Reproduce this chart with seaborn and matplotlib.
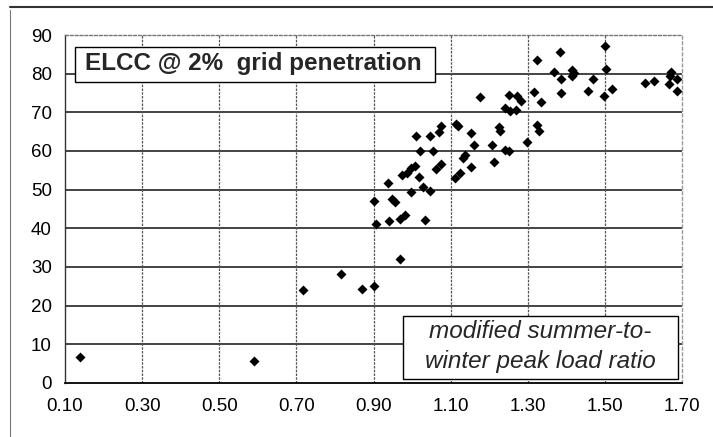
import matplotlib
matplotlib.use('Agg')
import matplotlib.pyplot as plt
import seaborn as sns
import pandas as pd
from matplotlib.patches import Rectangle
from matplotlib.lines import Line2D

# ---- data ----
ratio = [0.140, 0.590, 0.717, 0.815, 0.870, 0.900, 0.969, 0.900, 0.949, 0.956,
         0.906, 0.941, 0.969, 0.981, 1.034, 0.937, 0.997, 1.027, 1.047, 0.974,
         0.987, 0.996, 1.008, 1.019, 1.010, 1.046, 1.021, 1.054, 1.063, 1.075,
         1.071, 1.075, 1.110, 1.113, 1.118, 1.125, 1.131, 1.138, 1.154, 1.154,
         1.160, 1.177, 1.207, 1.212, 1.226, 1.228, 1.241, 1.254, 1.269, 1.252,
         1.271, 1.282, 1.241, 1.250, 1.298, 1.317, 1.325, 1.324, 1.328, 1.334,
         1.367, 1.384, 1.387, 1.387, 1.415, 1.419, 1.415, 1.456, 1.469, 1.500,
         1.503, 1.498, 1.519, 1.605, 1.627, 1.672, 1.668, 1.665, 1.688, 1.688]
elcc = [6.7, 5.7, 24.0, 28.1, 24.3, 25.0, 32.0, 47.0, 47.6, 46.7,
        41.0, 41.9, 42.3, 43.4, 42.2, 51.8, 49.3, 50.6, 49.7, 53.9,
        54.2, 55.5, 56.2, 53.2, 64.0, 64.0, 60.0, 60.0, 55.3, 56.6,
        64.9, 66.5, 52.9, 66.9, 66.5, 54.3, 58.2, 58.9, 64.7, 55.9,
        61.5, 74.0, 61.5, 57.1, 66.2, 65.3, 71.1, 70.3, 70.7, 74.5,
        74.3, 73.0, 60.3, 60.0, 62.4, 75.3, 83.5, 66.6, 65.1, 72.7,
        80.5, 85.5, 78.7, 75.0, 80.9, 80.1, 79.3, 75.5, 78.6, 87.2,
        81.1, 74.2, 76.0, 77.7, 78.0, 80.5, 79.3, 77.4, 78.7, 75.4]
x_ticks = [0.10, 0.30, 0.50, 0.70, 0.90, 1.10, 1.30, 1.50, 1.70]
x_tick_labels = ['0.10', '0.30', '0.50', '0.70', '0.90', '1.10', '1.30', '1.50', '1.70']
y_ticks = [0, 10, 20, 30, 40, 50, 60, 70, 80, 90]
title_text = 'ELCC @ 2%  grid penetration'
note_line1 = 'modified summer-to-'
note_line2 = 'winter peak load ratio'

sns.set_style('white')
plt.rcParams['font.family'] = ['Liberation Sans', 'DejaVu Sans']

fig = plt.figure(figsize=(7.13, 4.37), dpi=100)
ax = fig.add_axes([0.0912, 0.1236, 0.8654, 0.7963])

df = pd.DataFrame({'ratio': ratio, 'elcc': elcc})
sns.scatterplot(data=df, x='ratio', y='elcc', marker='D', color='black',
                s=26, linewidth=0, ax=ax, zorder=4)

ax.set_xlim(0.10, 1.70)
ax.set_ylim(0, 90)
ax.set_xticks(x_ticks)
ax.set_xticklabels(x_tick_labels)
ax.set_yticks(y_ticks)
ax.set_xlabel('')
ax.set_ylabel('')
ax.tick_params(axis='both', labelsize=13.5, labelcolor='black')
ax.tick_params(axis='y', direction='out', length=4.5, width=1, pad=5, color='#222')
ax.tick_params(axis='x', direction='out', length=3, width=1, pad=8, color='#444')

for y in y_ticks[1:-1]:
    ax.axhline(y, color='#111', lw=1.1, zorder=1)
for x in x_ticks[1:-1]:
    ax.axvline(x, color='#555', lw=0.9, ls=(0, (2, 1)), zorder=1)

ax.spines['left'].set_color('#333')
ax.spines['left'].set_linewidth(1.0)
ax.spines['bottom'].set_color('black')
ax.spines['bottom'].set_linewidth(1.3)
ax.spines['top'].set_color('#777')
ax.spines['top'].set_linestyle((0, (2, 1.5)))
ax.spines['top'].set_linewidth(1.0)
ax.spines['right'].set_color('#999')
ax.spines['right'].set_linestyle((0, (2, 2)))
ax.spines['right'].set_linewidth(1.0)

# title box
ax.add_patch(Rectangle((0.0162, 0.8658), 0.5835, 0.1006, transform=ax.transAxes,
                       facecolor='white', edgecolor='black', lw=1.0, zorder=5))
ax.text(0.3052, 0.8994, title_text, transform=ax.transAxes, ha='center', va='baseline',
        fontsize=17.5, fontweight='bold', zorder=6)

# note box
ax.add_patch(Rectangle((0.5483, 0.0115), 0.4457, 0.1819, transform=ax.transAxes,
                       facecolor='white', edgecolor='black', lw=1.0, zorder=5))
ax.text(0.7707, 0.1284, note_line1, transform=ax.transAxes, ha='center', va='baseline',
        fontsize=17.5, fontstyle='italic', zorder=6)
ax.text(0.7707, 0.0422, note_line2, transform=ax.transAxes, ha='center', va='baseline',
        fontsize=17.5, fontstyle='italic', zorder=6)

# page frame lines
fig.add_artist(Line2D([10 / 713, 1.0], [1 - 6.7 / 437] * 2, transform=fig.transFigure,
                      color='#333', lw=1.5))
fig.add_artist(Line2D([10 / 713] * 2, [0.0, 1 - 10 / 437], transform=fig.transFigure,
                      color='#777', lw=0.8))

fig.savefig('out.png', dpi=100)
